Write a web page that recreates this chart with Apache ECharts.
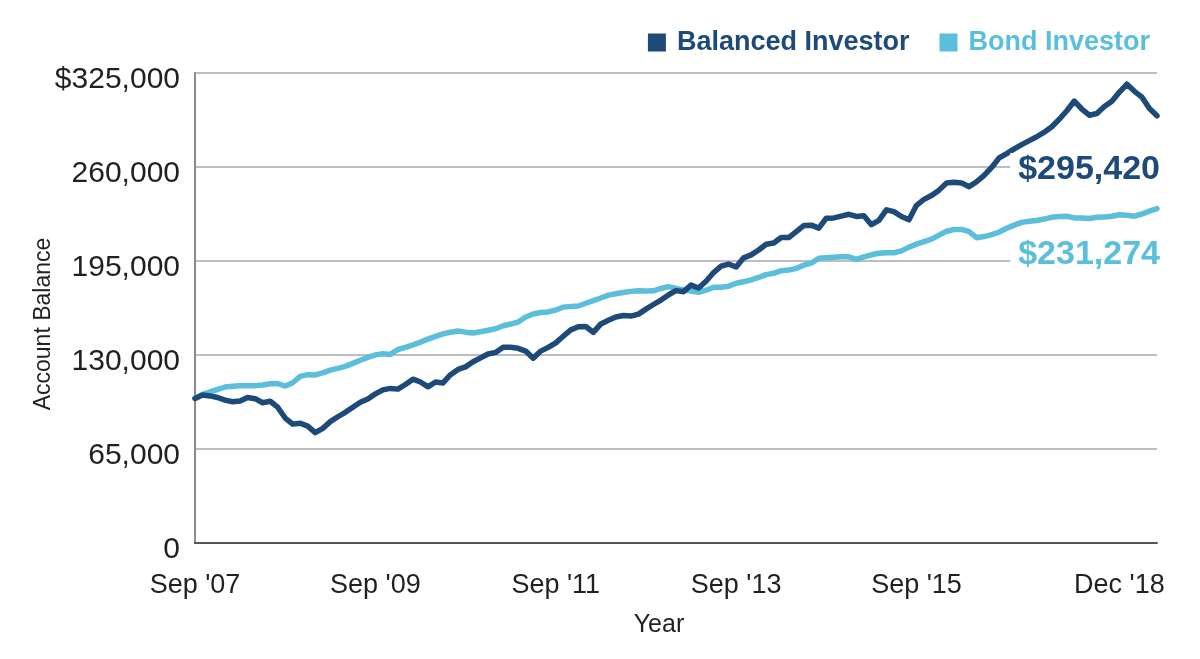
<!DOCTYPE html>
<html>
<head>
<meta charset="utf-8">
<script src="https://cdn.jsdelivr.net/npm/echarts/dist/echarts.min.js"></script>
<style>
html,body{margin:0;padding:0;background:#ffffff;}
#chart{width:1200px;height:659px;}
</style>
</head>
<body>
<div id="chart"></div>
<script>
// ---- data (monthly balances, Sep '07 onward) ----
const seriesNames = ['Balanced Investor', 'Bond Investor'];

const balanced = [
  100000,102400,101700,100600,98800,97700,98200,100600,99800,97000,
  98000,93900,86400,82200,82800,80800,76300,79300,83900,87300,
  90400,93900,97300,99600,103100,105900,106900,106400,109600,113300,
  111300,108000,111300,110700,116400,120000,121800,125300,128000,130700,
  131800,135400,135300,134600,132700,127800,132700,135300,138400,143000,
  147400,149500,149700,145600,151500,154000,156300,157300,156900,158300,
  161700,164900,168000,171500,174500,173800,178300,176300,181000,187000,
  191400,192900,190800,197200,199200,202600,206600,207400,211300,211200,
  215300,219500,219800,217700,224600,224800,226000,227300,225800,226300,
  220100,223100,230400,229100,225800,223500,233500,237600,240300,244000,
  249000,249400,249000,246400,249800,254200,259700,266300,269300,272500,
  275500,278200,280900,284100,287800,293000,298900,305600,300100,295800,
  297000,301800,305400,311800,317200,312300,308300,300400,295420
];

const bond = [
  100000,102800,104500,106200,107800,108400,108700,108700,108700,109200,
  110100,110300,108500,110800,115200,116400,116200,117700,119500,120800,
  122100,124200,126400,128400,130100,130900,130400,133800,135300,137000,
  138900,141000,142900,144600,145700,146600,145800,145200,146100,147100,
  148100,150200,151400,152800,156300,158400,159400,159800,161100,163100,
  163500,163900,165800,167600,169400,171400,172300,173200,174000,174500,
  174200,174400,176000,177300,176100,175000,174300,173400,174800,176800,
  176800,177600,179600,180600,181900,183600,185600,186500,188300,188700,
  189900,192100,193500,196900,197200,197600,197900,197900,196200,197800,
  199300,200400,200700,200700,202000,204600,206700,208400,210100,212900,
  215600,216800,216800,215300,211100,211900,213300,215000,217600,219800,
  221700,222500,223000,224000,225300,225700,225900,224800,224800,224400,
  225200,225500,225900,227000,226600,226000,227500,229500,231274
];

const xTickIndex = [0, 24, 48, 72, 96, 123];
const xTickText  = ["Sep '07", "Sep '09", "Sep '11", "Sep '13", "Sep '15", "Dec '18"];
const yTickText  = ['0', '65,000', '130,000', '195,000', '260,000', '$325,000'];
const endLabels  = ['$295,420', '$231,274'];

// ---- styling ----
const DARK = '#1d4a78';
const LIGHT = '#5bbfdb';
const TEXT = '#231f20';
const SANS = '"Liberation Sans", Arial, Helvetica, sans-serif';

const categories = balanced.map((_, i) => String(i));

const chart = echarts.init(document.getElementById('chart'), null, {renderer: 'canvas'});

chart.setOption({
  animation: false,
  backgroundColor: '#ffffff',
  grid: {left: 195, right: 43, top: 73, bottom: 116, containLabel: false, outerBoundsMode: 'none'},
  legend: {
    data: [
      {name: seriesNames[0], textStyle: {color: DARK}},
      {name: seriesNames[1], textStyle: {color: LIGHT}}
    ],
    right: 45,
    top: 24,
    icon: 'rect',
    itemWidth: 18,
    itemHeight: 18,
    itemGap: 30,
    textStyle: {fontSize: 27, fontWeight: 'bold', fontFamily: SANS, padding: [0, 0, 0, 6]}
  },
  xAxis: {
    type: 'category',
    data: categories,
    boundaryGap: false,
    axisLine: {show: true, lineStyle: {color: '#555555', width: 2}},
    axisTick: {show: false},
    splitLine: {show: false},
    axisLabel: {
      interval: (i) => xTickIndex.includes(i),
      formatter: (v, i) => { const k = xTickIndex.indexOf(i); return k >= 0 ? xTickText[k] : ''; },
      fontSize: 27,
      fontFamily: SANS,
      color: TEXT,
      margin: 29,
      hideOverlap: false
    },
    name: 'Year',
    nameLocation: 'middle',
    nameGap: 70,
    nameMoveOverlap: false,
    nameTextStyle: {fontSize: 25, fontFamily: SANS, color: TEXT, padding: [0, 34, 0, 0]}
  },
  yAxis: {
    type: 'value',
    min: 0,
    max: 325000,
    interval: 65000,
    axisLine: {show: true, lineStyle: {color: '#8c8c8c', width: 2}},
    axisTick: {show: false},
    splitLine: {show: true, lineStyle: {color: '#a8a8a8', width: 1.5}},
    axisLabel: {
      formatter: (v) => yTickText[Math.round(v / 65000)],
      fontSize: 30,
      fontFamily: SANS,
      color: TEXT,
      margin: 15,
      verticalAlign: 'top',
      lineHeight: 14
    },
    name: 'Account Balance',
    nameLocation: 'middle',
    nameGap: 140,
    nameMoveOverlap: false,
    nameTextStyle: {fontSize: 23, fontFamily: SANS, color: TEXT, padding: [0, 32, 0, 0]}
  },
  series: [
    {
      name: seriesNames[1],
      type: 'line',
      data: bond,
      symbol: 'none',
      showSymbol: false,
      z: 2,
      lineStyle: {width: 5.5, color: LIGHT, join: 'round', cap: 'round'},
      itemStyle: {color: LIGHT}
    },
    {
      name: seriesNames[0],
      type: 'line',
      data: balanced,
      symbol: 'none',
      showSymbol: false,
      z: 3,
      lineStyle: {width: 5.5, color: DARK, join: 'round', cap: 'round'},
      itemStyle: {color: DARK}
    }
  ],
  graphic: [
    {
      type: 'text', right: 40, top: 153, z: 100,
      style: {text: endLabels[0], fill: DARK, font: 'bold 34px ' + SANS,
              backgroundColor: '#ffffff', padding: [0, 0, 0, 8]}
    },
    {
      type: 'text', right: 40, top: 238, z: 100,
      style: {text: endLabels[1], fill: LIGHT, font: 'bold 34px ' + SANS,
              backgroundColor: '#ffffff', padding: [0, 0, 0, 8]}
    }
  ]
});
</script>
</body>
</html>
